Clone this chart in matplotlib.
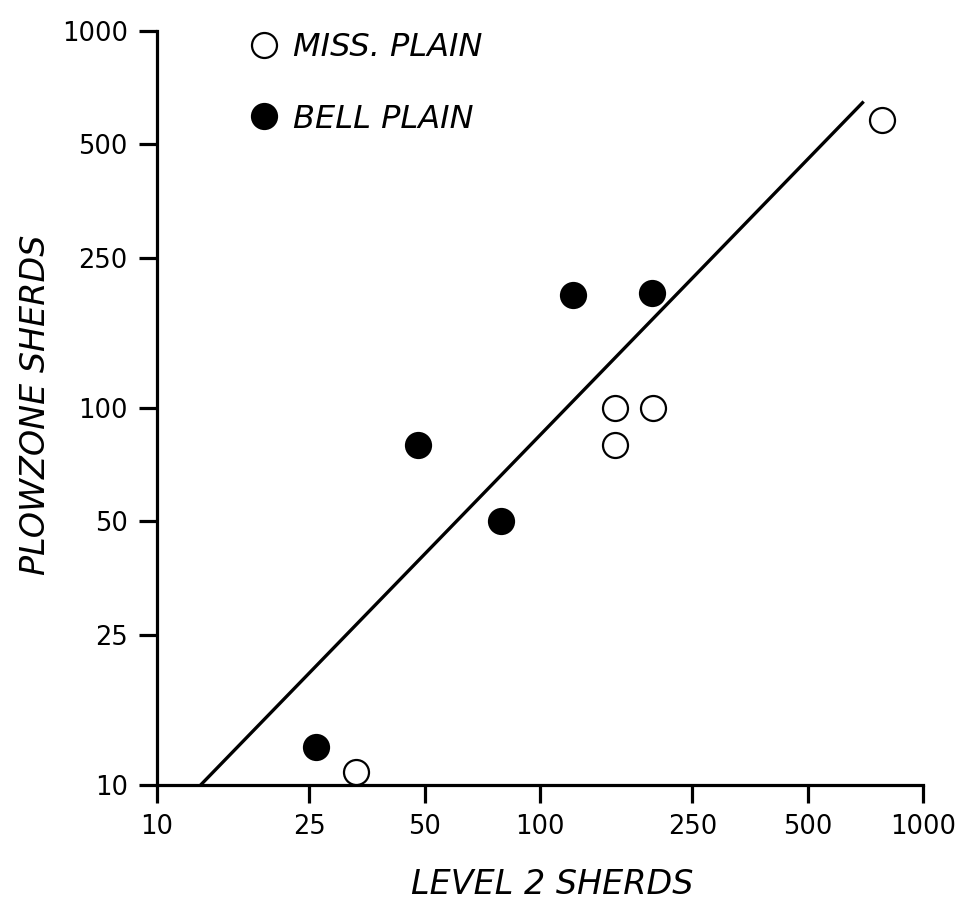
import matplotlib
matplotlib.use('Agg')
import matplotlib.pyplot as plt
from matplotlib.lines import Line2D

# Data
miss_x = [780, 157, 197, 157, 33]
miss_y = [580, 100, 100, 80, 10.8]
bell_x = [122, 196, 48, 79, 26]
bell_y = [200, 202, 80, 50, 12.6]
fit_x = [13, 700]
fit_y = [10, 650]
ticks = [10, 25, 50, 100, 250, 500, 1000]
tick_labels = ['10', '25', '50', '100', '250', '500', '1000']

W, H = 967, 911
fig = plt.figure(figsize=(W / 100, H / 100), dpi=100)
L, R, T, B = 157, 923, 31, 785
ax = fig.add_axes([L / W, 1 - B / H, (R - L) / W, (B - T) / H])
ax.set_xscale('log')
ax.set_yscale('log')
ax.set_xlim(10, 1000)
ax.set_ylim(10, 1000)

ax.plot(fit_x, fit_y, color='black', lw=2.4, solid_capstyle='butt', zorder=2)
ax.plot(miss_x, miss_y, 'o', ms=18, mfc='white', mec='black', mew=1.6,
        clip_on=False, zorder=3)
ax.plot(bell_x, bell_y, 'o', ms=18, mfc='black', mec='black', mew=1.6,
        clip_on=False, zorder=3)

for s in ['top', 'right']:
    ax.spines[s].set_visible(False)
for s in ['left', 'bottom']:
    ax.spines[s].set_linewidth(2.3)

ax.minorticks_off()
ax.set_xticks(ticks, tick_labels)
ax.set_yticks(ticks, tick_labels)
ax.tick_params(axis='both', which='major', direction='out', length=13,
               width=2.3, labelsize=18.5, pad=8)
ax.tick_params(axis='both', which='minor', length=0)

xl = ax.set_xlabel('LEVEL 2 SHERDS', fontsize=24, style='italic')
yl = ax.set_ylabel('PLOWZONE SHERDS', fontsize=24, style='italic')
ax.xaxis.set_label_coords(552 / W, 1 - 885 / H, transform=fig.transFigure)
ax.yaxis.set_label_coords(36 / W, 1 - 405 / H, transform=fig.transFigure)
xl.set_va('center')
yl.set_va('center')

handles = [
    Line2D([], [], ls='none', marker='o', ms=18, mfc='white', mec='black', mew=1.6),
    Line2D([], [], ls='none', marker='o', ms=18, mfc='black', mec='black', mew=1.6),
]
ax.legend(handles, ['MISS. PLAIN', 'BELL PLAIN'], loc='upper left',
          bbox_to_anchor=(251 / W, 1 - 32 / H), bbox_transform=fig.transFigure,
          frameon=False, prop=dict(style='italic', size=23), handlelength=0.8,
          handletextpad=0.5, labelspacing=1.27, borderpad=0, borderaxespad=0)

fig.savefig('out.png', dpi=100, facecolor='white')
